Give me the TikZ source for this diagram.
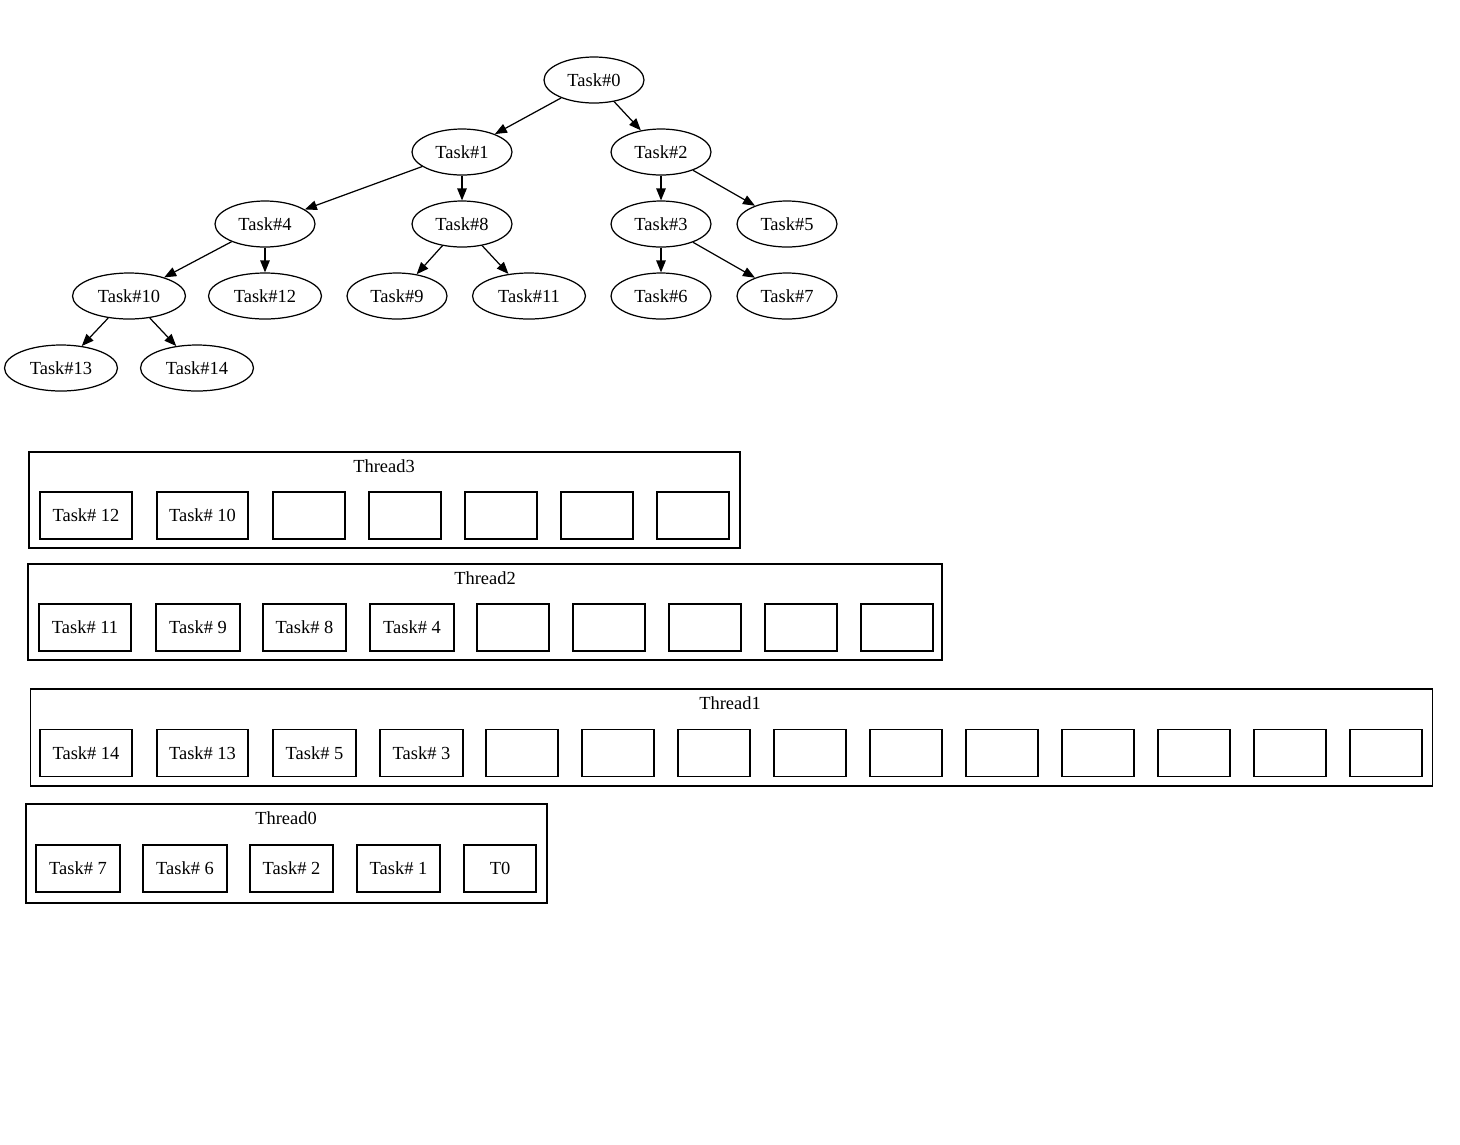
\documentclass[tikz,border=0pt]{standalone}
\usepackage{fontspec}
\setmainfont{Liberation Serif}
\usetikzlibrary{arrows.meta,shapes.geometric}

\begin{document}
\begin{tikzpicture}[
    x=0.02cm, y=-0.02cm,
    every node/.style={font=\fontsize{10.5}{12}\selectfont},
    task/.style={draw, ellipse, line width=0.7pt, inner sep=0pt, minimum width=2cm, minimum height=0.92cm},
    wide/.style={minimum width=2.26cm},
    arrow/.style={-{Triangle[length=0.24cm, width=0.19cm]}, line width=0.7pt},
    lane/.style={draw, line width=0.7pt, inner sep=0pt},
    slot/.style={draw, line width=0.7pt, inner sep=0pt, minimum height=0.94cm},
    label/.style={inner sep=0pt}
]
\useasboundingbox (0,0) rectangle (1460,1144);

% Task tree
\node[task] (t0) at (594,80) {Task\#0};
\node[task] (t1) at (462,152) {Task\#1};
\node[task] (t2) at (661,152) {Task\#2};
\node[task] (t4) at (265,224) {Task\#4};
\node[task] (t8) at (462,224) {Task\#8};
\node[task] (t3) at (661,224) {Task\#3};
\node[task] (t5) at (787,224) {Task\#5};
\node[task, wide] (t10) at (129,296) {Task\#10};
\node[task, wide] (t12) at (265,296) {Task\#12};
\node[task] (t9) at (397,296) {Task\#9};
\node[task, wide] (t11) at (529,296) {Task\#11};
\node[task] (t6) at (661,296) {Task\#6};
\node[task] (t7) at (787,296) {Task\#7};
\node[task, wide] (t13) at (61,368) {Task\#13};
\node[task, wide] (t14) at (197,368) {Task\#14};

% Edges
\draw[arrow] (t0) -- (t1);
\draw[arrow] (t0) -- (t2);
\draw[arrow] (t1) -- (t4);
\draw[arrow] (t1) -- (t8);
\draw[arrow] (t2) -- (t3);
\draw[arrow] (t2) -- (t5);
\draw[arrow] (t4) -- (t10);
\draw[arrow] (t4) -- (t12);
\draw[arrow] (t8) -- (t9);
\draw[arrow] (t8) -- (t11);
\draw[arrow] (t3) -- (t6);
\draw[arrow] (t3) -- (t7);
\draw[arrow] (t10) -- (t13);
\draw[arrow] (t10) -- (t14);

% Thread3
\node[lane, minimum width=14.22cm, minimum height=1.92cm] (thread3) at (384.5,500) {};
\node[label] (thread3l) at (384,466) {Thread3};
\node[slot, minimum width=1.84cm] (s3a) at (86,515.5) {Task\# 12};
\node[slot, minimum width=1.82cm] (s3b) at (202.5,515.5) {Task\# 10};
\foreach \k in {0,...,4}
    \node[slot, minimum width=1.44cm] (s3e\k) at (309+96*\k,515.5) {};

% Thread2
\node[lane, minimum width=18.28cm, minimum height=1.92cm] (thread2) at (485,612) {};
\node[label] (thread2l) at (485,578) {Thread2};
\node[slot, minimum width=1.84cm] (s2a) at (85,627.5) {Task\# 11};
\node[slot, minimum width=1.68cm] (s2b) at (198,627.5) {Task\# 9};
\node[slot, minimum width=1.66cm] (s2c) at (304.5,627.5) {Task\# 8};
\node[slot, minimum width=1.68cm] (s2d) at (412,627.5) {Task\# 4};
\foreach \k in {0,...,4}
    \node[slot, minimum width=1.44cm] (s2e\k) at (513+96*\k,627.5) {};

% Thread1
\node[lane, minimum width=28.06cm, minimum height=1.94cm] (thread1) at (731.5,737.5) {};
\node[label] (thread1l) at (730,703) {Thread1};
\node[slot, minimum width=1.84cm] (s1a) at (86,753) {Task\# 14};
\node[slot, minimum width=1.82cm] (s1b) at (202.5,753) {Task\# 13};
\node[slot, minimum width=1.66cm] (s1c) at (314.5,753) {Task\# 5};
\node[slot, minimum width=1.66cm] (s1d) at (421.5,753) {Task\# 3};
\foreach \k in {0,...,9}
    \node[slot, minimum width=1.44cm] (s1e\k) at (522+96*\k,753) {};

% Thread0
\node[lane, minimum width=10.42cm, minimum height=1.98cm] (thread0) at (286.5,853.5) {};
\node[label] (thread0l) at (286,818) {Thread0};
\node[slot, minimum width=1.68cm] (s0a) at (78,868.5) {Task\# 7};
\node[slot, minimum width=1.68cm] (s0b) at (185,868.5) {Task\# 6};
\node[slot, minimum width=1.66cm] (s0c) at (291.5,868.5) {Task\# 2};
\node[slot, minimum width=1.66cm] (s0d) at (398.5,868.5) {Task\# 1};
\node[slot, minimum width=1.44cm] (s0e) at (500,868.5) {T0};

\end{tikzpicture}
\end{document}
